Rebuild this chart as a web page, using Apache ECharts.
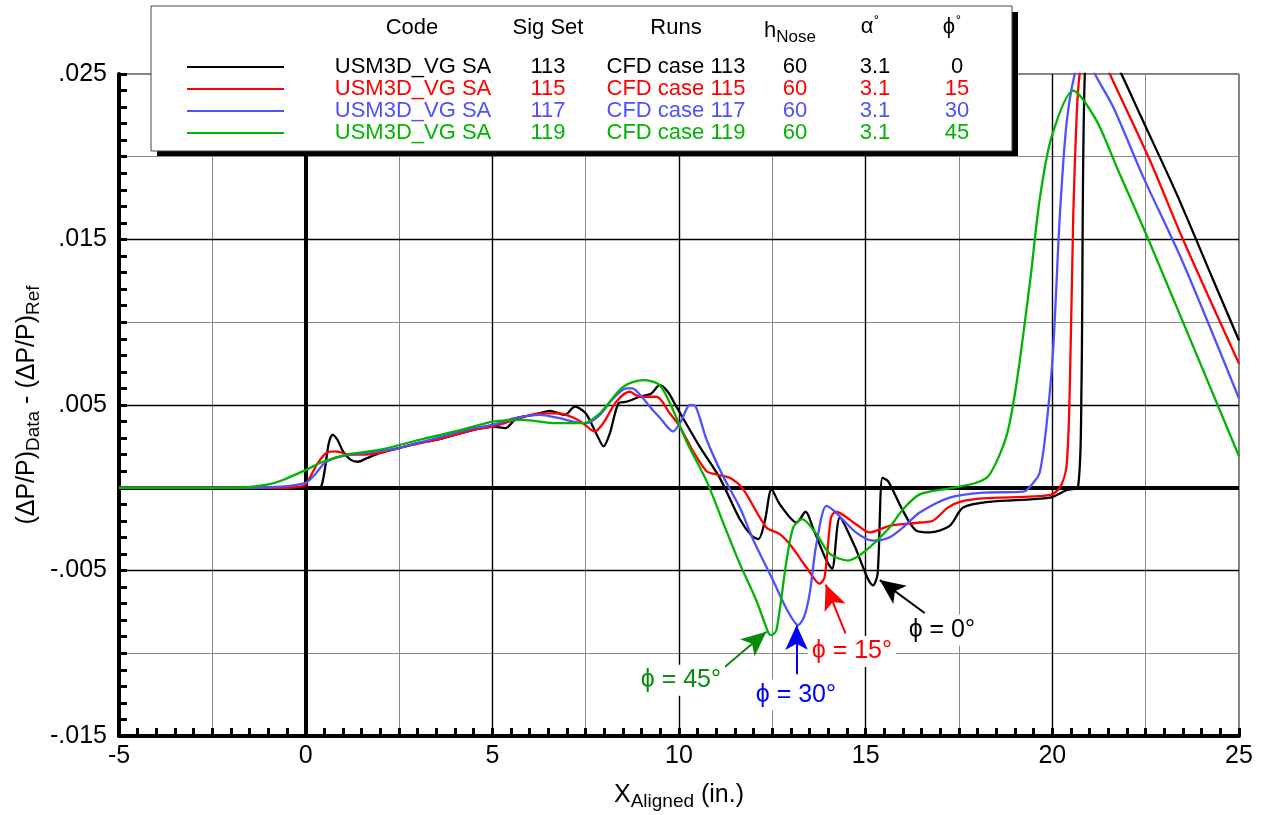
<!DOCTYPE html>
<html><head><meta charset="utf-8">
<script src="https://cdn.jsdelivr.net/npm/echarts@6/dist/echarts.min.js"></script>
<style>html,body{margin:0;padding:0;background:#fff}#c{width:1264px;height:815px}</style>
</head><body><div id="c"></div>
<script>
const FONT = '"Liberation Sans", Arial, Helvetica, sans-serif';

// ---- tick labels ----
const xTickValues = [-5, 0, 5, 10, 15, 20, 25];
const xTickLabels = ['-5', '0', '5', '10', '15', '20', '25'];
const yTickValues = [-0.015, -0.005, 0.005, 0.015, 0.025];
const yTickLabels = ['-.015', '-.005', '.005', '.015', '.025'];
const xMajorGrid = [5, 10, 15, 20];
const yMajorGrid = [-0.005, 0.005, 0.015];

// ---- legend table ----
const seriesNames = ['phi 0', 'phi 15', 'phi 30', 'phi 45'];
const codes = ['USM3D_VG SA', 'USM3D_VG SA', 'USM3D_VG SA', 'USM3D_VG SA'];
const sigSets = ['113', '115', '117', '119'];
const runs = ['CFD case 113', 'CFD case 115', 'CFD case 117', 'CFD case 119'];
const hNose = ['60', '60', '60', '60'];
const alphaDeg = ['3.1', '3.1', '3.1', '3.1'];
const phiDeg = ['0', '15', '30', '45'];
const headers = ['Code', 'Sig Set', 'Runs', 'h', 'α', 'ϕ'];

// ---- series values [x, y] ----
const curvePhi0 = [[-5,0],[0.3,0],[0.42,0.0001],[0.52,0.0012],[0.62,0.0027],[0.72,0.0032],[0.85,0.0029],[1.0,0.0022],[1.2,0.0017],[1.4,0.00157],[1.65,0.0018],[2.0,0.0021],[2.5,0.0024],[3.0,0.0027],[3.5,0.0029],[4.0,0.0032],[4.5,0.0035],[5.0,0.0037],[5.35,0.0036],[5.65,0.0042],[6.1,0.0044],[6.54,0.00465],[6.94,0.0044],[7.21,0.0049],[7.5,0.0045],[7.8,0.0032],[7.98,0.0025],[8.15,0.0033],[8.38,0.0051],[8.6,0.0052],[8.95,0.0055],[9.26,0.0057],[9.48,0.0062],[9.7,0.0058],[9.93,0.0049],[10.55,0.0025],[11.09,0.0006],[11.63,-0.0019],[11.95,-0.0029],[12.13,-0.0031],[12.3,-0.0020],[12.48,-0.0001],[12.7,-0.0010],[13.15,-0.0021],[13.39,-0.00145],[13.6,-0.0025],[13.95,-0.0044],[14.1,-0.0049],[14.31,-0.0018],[14.7,-0.0035],[15.2,-0.0059],[15.32,-0.0052],[15.45,0.0006],[15.6,0.0004],[16.0,-0.0014],[16.36,-0.0026],[16.72,-0.0027],[17.25,-0.0023],[17.61,-0.0012],[18.32,-0.00085],[19.93,-0.0006],[20.38,-0.00014],[20.69,0.00006],[20.78,0.006],[20.87,0.025],[21.1,0.0285],[21.85,0.025],[22.38,0.0224],[23.32,0.0178],[24.3,0.0126],[25,0.0089]];
const curvePhi15 = [[-5,0],[-0.6,0],[-0.2,0.00005],[0.0,0.0002],[0.3,0.0014],[0.55,0.0021],[0.8,0.0022],[1.2,0.0020],[1.6,0.0020],[2.0,0.0021],[2.5,0.0024],[3.5,0.0029],[4.5,0.0035],[5.0,0.0037],[5.6,0.0041],[6.27,0.0045],[6.8,0.0045],[7.2,0.0042],[7.43,0.0039],[7.74,0.0034],[7.97,0.0039],[8.32,0.0052],[8.68,0.0058],[8.95,0.0055],[9.4,0.0055],[9.75,0.0045],[10.02,0.0037],[10.38,0.0022],[10.74,0.0010],[11.0,0.0008],[11.36,0.0006],[11.72,-0.0001],[12.34,-0.0024],[12.7,-0.0028],[13.0,-0.0035],[13.41,-0.0048],[13.77,-0.0058],[13.9,-0.0054],[14.07,-0.0018],[14.2,-0.00145],[14.74,-0.0022],[15.11,-0.0027],[15.64,-0.0023],[16.45,-0.0021],[16.8,-0.0020],[17.2,-0.0012],[17.52,-0.00085],[18.14,-0.00064],[19.93,-0.00044],[20.2,0.0000],[20.38,0.0013],[20.47,0.0063],[20.56,0.0164],[20.65,0.0224],[20.73,0.025],[20.95,0.028],[21.54,0.025],[22.61,0.0198],[23.5,0.015],[25,0.0075]];
const curvePhi30 = [[-5,0],[-1.5,0],[-1.0,0.00003],[-0.5,0.0001],[0,0.0003],[0.25,0.0008],[0.51,0.0015],[0.8,0.0018],[1.18,0.0020],[1.6,0.0021],[2.5,0.0024],[3.5,0.0030],[4.5,0.0036],[5.0,0.0038],[5.6,0.0042],[6.27,0.0044],[6.8,0.0042],[7.16,0.0040],[7.52,0.0039],[7.88,0.0044],[8.2,0.0053],[8.59,0.0060],[8.75,0.0060],[9.0,0.0055],[9.22,0.0049],[9.5,0.0042],[9.84,0.0034],[10.05,0.0040],[10.29,0.0050],[10.45,0.0049],[10.74,0.0029],[11.18,0.0007],[11.63,-0.0012],[12.0,-0.0032],[12.52,-0.0056],[12.9,-0.0074],[13.19,-0.0083],[13.35,-0.0078],[13.5,-0.0064],[13.68,-0.0034],[13.95,-0.0011],[14.2,-0.0015],[14.74,-0.0027],[15.2,-0.0032],[15.64,-0.0030],[16.0,-0.0024],[16.45,-0.0015],[17.25,-0.0006],[18.15,-0.0003],[19.22,-0.00024],[19.49,0.0003],[19.66,0.0009],[19.84,0.0037],[20.02,0.0083],[20.2,0.0164],[20.38,0.0220],[20.6,0.025],[20.85,0.0265],[21.14,0.025],[21.63,0.0230],[22.43,0.0188],[23.5,0.0136],[25,0.0054]];
const curvePhi45 = [[-5,0],[-2.0,0],[-1.59,0.00003],[-1.0,0.0002],[-0.61,0.00047],[0,0.00107],[0.46,0.00157],[1.18,0.00204],[2.0,0.0023],[3.05,0.0029],[4.0,0.0034],[5.02,0.0040],[5.82,0.0041],[6.72,0.0039],[7.43,0.0039],[7.88,0.0045],[8.5,0.0061],[9.04,0.0065],[9.48,0.0062],[9.84,0.0047],[10.2,0.0028],[10.74,0.0004],[11.18,-0.0021],[11.63,-0.0046],[12.07,-0.0068],[12.4,-0.0088],[12.48,-0.0089],[12.61,-0.0086],[12.88,-0.0044],[13.06,-0.0024],[13.3,-0.0019],[13.68,-0.0028],[14.04,-0.0040],[14.53,-0.0044],[15.0,-0.0038],[15.64,-0.0024],[16.0,-0.0013],[16.45,-0.0004],[17.25,-0.00004],[17.96,0.0003],[18.32,0.0008],[18.77,0.0031],[19.04,0.0063],[19.4,0.0124],[19.66,0.0174],[19.98,0.0212],[20.56,0.0240],[21.18,0.0222],[21.72,0.0194],[22.61,0.0148],[25,0.0019]];
const curves = [curvePhi0, curvePhi15, curvePhi30, curvePhi45];

// ---- callouts (data units) ----
const calloutText = ['ϕ = 0°', 'ϕ = 15°', 'ϕ = 30°', 'ϕ = 45°'];
const calloutAt = [[17.04, -0.0086], [14.63, -0.0099], [13.13, -0.01253], [10.05, -0.01163]];
const arrowFrom = [[16.58, -0.00757], [14.46, -0.0088], [13.15, -0.01127], [11.13, -0.01101]];
const arrowTip = [[15.38, -0.00558], [13.93, -0.00585], [13.15, -0.0083], [12.34, -0.0087]];

// ---- styles ----
const lineColors = ['#000000', '#ff0000', '#5050ff', '#00b400'];
const calloutColors = ['#000000', '#ff0000', '#0000ff', '#0a8a0a'];

function labelFor(v, vals, labs) {
  for (let i = 0; i < vals.length; i++) if (Math.abs(v - vals[i]) < 1e-9) return labs[i];
  return '';
}

const colW = [154, 116, 140, 98, 62, 102];
const legendRich = {sp: {width: 47, fontSize: 22, lineHeight: 21.7}};
lineColors.forEach((c, i) => {
  colW.forEach((w, j) => {
    legendRich['c' + i + '_' + j] = {width: w, align: 'center', color: c, fontSize: 22, fontFamily: FONT, lineHeight: 21.7};
  });
});

const gridMarks = [];
xMajorGrid.forEach(v => gridMarks.push({xAxis: v, lineStyle: {color: '#000', width: 1.4, type: 'solid'}}));
yMajorGrid.forEach(v => gridMarks.push({yAxis: v, lineStyle: {color: '#000', width: 1.4, type: 'solid'}}));
gridMarks.push({xAxis: 0, lineStyle: {color: '#000', width: 4, type: 'solid'}});
gridMarks.push({yAxis: 0, lineStyle: {color: '#000', width: 4, type: 'solid'}});

const series = curves.map((d, i) => {
  const arrow = [
    {coord: arrowFrom[i], symbol: 'none', lineStyle: {color: calloutColors[i], width: 2, type: 'solid'}},
    {coord: arrowTip[i], symbol: 'arrow', symbolSize: [17, 25]}
  ];
  return {
    name: seriesNames[i],
    type: 'line',
    data: d,
    showSymbol: false,
    symbol: 'none',
    smooth: 0.28,
    clip: true,
    lineStyle: {color: lineColors[i], width: 2.3},
    itemStyle: {color: lineColors[i]},
    z: 2,
    markLine: {
      silent: true, z: 1, animation: false, precision: 8,
      symbol: ['none', 'none'],
      label: {show: false},
      emphasis: {disabled: true},
      data: (i === 0 ? gridMarks : []).concat([arrow])
    },
    markPoint: {
      silent: true, z: 6, animation: false,
      symbol: 'circle', symbolSize: 0,
      itemStyle: {color: 'rgba(0,0,0,0)'},
      data: [{coord: calloutAt[i], value: calloutText[i]}],
      label: {
        show: true, position: 'inside', formatter: calloutText[i],
        color: calloutColors[i], fontSize: 25, fontFamily: FONT,
        backgroundColor: '#fff', padding: [3, 4]
      }
    }
  };
});

const hdrX = [412, 548, 676, 790, 870, 952];
const hdrElems = [
  {type: 'rect', z: 9, shape: {x: 157, y: 12, width: 861, height: 144}, style: {fill: '#000'}, silent: true}
];
['Code', 'Sig Set', 'Runs'].forEach((t, k) => {
  hdrElems.push({type: 'text', x: hdrX[k], y: 28, z: 20,
    style: {text: t, font: '22px ' + FONT, fill: '#000', align: 'center', verticalAlign: 'middle', textAlign: 'center', textVerticalAlign: 'middle'}});
});
hdrElems.push({type: 'text', x: hdrX[3], y: 31, z: 20,
  style: {text: '{a|' + headers[3] + '}{b|Nose}', fill: '#000', align: 'center', verticalAlign: 'middle', textAlign: 'center', textVerticalAlign: 'middle',
    rich: {a: {fontSize: 22, fontFamily: FONT, fill: '#000'}, b: {fontSize: 17, fontFamily: FONT, fill: '#000', padding: [12, 0, 0, 0]}}}});
[4, 5].forEach(k => {
  hdrElems.push({type: 'text', x: hdrX[k], y: 27, z: 20,
    style: {text: '{a|' + headers[k] + '}{d|˚}', fill: '#000', align: 'center', verticalAlign: 'middle', textAlign: 'center', textVerticalAlign: 'middle',
      rich: {a: {fontSize: 22, fontFamily: FONT, fill: '#000'}, d: {fontSize: 15, fontFamily: FONT, fill: '#000', padding: [0, 0, 8, 1]}}}});
});

const option = {
  animation: false,
  backgroundColor: '#fff',
  grid: {left: 119, right: 25, top: 74, bottom: 79, containLabel: false, outerBoundsMode: 'none',
    show: true, borderColor: '#000', borderWidth: 1, backgroundColor: 'rgba(0,0,0,0)'},
  xAxis: {
    type: 'value', min: -5, max: 25, interval: 2.5,
    name: '{m|X}{s|Aligned}{m| (in.)}', nameLocation: 'middle', nameGap: 44, nameMoveOverlap: false,
    nameTextStyle: {rich: {m: {fontSize: 25, fontFamily: FONT, color: '#000'}, s: {fontSize: 19, fontFamily: FONT, color: '#000', padding: [12, 0, 0, 0]}}},
    axisLine: {show: true, onZero: false, lineStyle: {color: '#000', width: 4}},
    axisTick: {show: true, inside: true, length: 8, lineStyle: {color: '#000', width: 3}},
    minorTick: {show: true, splitNumber: 5, length: 8, lineStyle: {color: '#000', width: 3}},
    axisLabel: {show: true, fontSize: 25, fontFamily: FONT, color: '#000', margin: 8, hideOverlap: false,
      formatter: v => labelFor(v, xTickValues, xTickLabels)},
    splitLine: {show: true, lineStyle: {color: '#888', width: 1}},
    minorSplitLine: {show: false}
  },
  yAxis: {
    type: 'value', min: -0.015, max: 0.025, interval: 0.005,
    name: '{m|(ΔP/P)}{s|Data}{m| - (ΔP/P)}{s|Ref}', nameLocation: 'middle', nameRotate: 90, nameGap: 76, nameMoveOverlap: false,
    nameTextStyle: {rich: {m: {fontSize: 25, fontFamily: FONT, color: '#000'}, s: {fontSize: 19, fontFamily: FONT, color: '#000', padding: [12, 0, 0, 0]}}},
    axisLine: {show: true, onZero: false, lineStyle: {color: '#000', width: 4}},
    axisTick: {show: true, inside: true, length: 8, lineStyle: {color: '#000', width: 3}},
    minorTick: {show: true, splitNumber: 5, length: 8, lineStyle: {color: '#000', width: 3}},
    axisLabel: {show: true, fontSize: 25, fontFamily: FONT, color: '#000', margin: 12, hideOverlap: false,
      formatter: v => labelFor(v, yTickValues, yTickLabels)},
    splitLine: {show: true, lineStyle: {color: '#888', width: 1}},
    minorSplitLine: {show: false}
  },
  legend: {
    orient: 'vertical', left: 151, top: 6, padding: [50, 4, 7, 36], itemGap: 0,
    itemWidth: 97, itemHeight: 2, icon: 'rect', selectedMode: false,
    backgroundColor: '#fff', borderColor: '#444', borderWidth: 1,
    z: 10,
    data: seriesNames,
    formatter: name => {
      const i = seriesNames.indexOf(name);
      const cols = [codes[i], sigSets[i], runs[i], hNose[i], alphaDeg[i], phiDeg[i]];
      return '{sp| }' + cols.map((t, j) => '{c' + i + '_' + j + '|' + t + '}').join('');
    },
    textStyle: {fontSize: 22, fontFamily: FONT, rich: legendRich}
  },
  graphic: {elements: hdrElems},
  series: series
};

const chart = echarts.init(document.getElementById('c'), null, {renderer: 'canvas'});
chart.setOption(option);
</script>
</body></html>
